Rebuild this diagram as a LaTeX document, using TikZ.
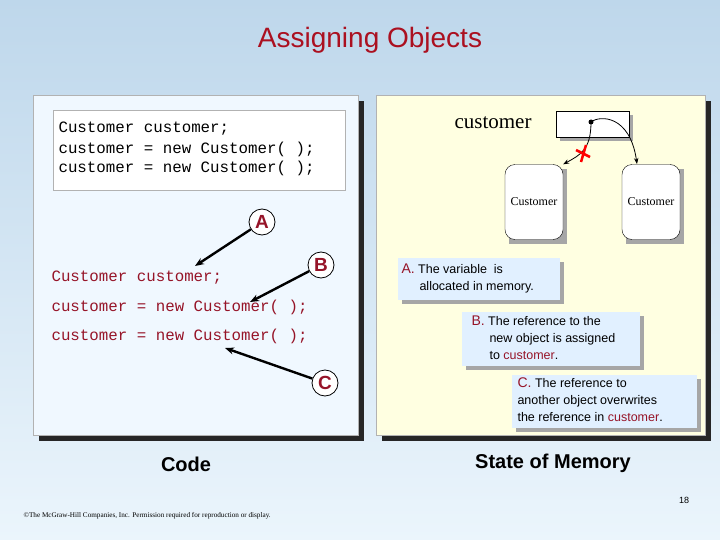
\documentclass[tikz,border=0pt]{standalone}
\usepackage{fontspec}
\setmainfont{Liberation Sans}
\newfontfamily\mono{Liberation Mono}
\newfontfamily\serif{Liberation Serif}
\usetikzlibrary{arrows.meta}
\definecolor{codered}{RGB}{150,20,40}
\definecolor{pale}{RGB}{240,248,255}
\definecolor{cream}{RGB}{255,255,225}
\definecolor{callout}{RGB}{225,240,255}
\definecolor{bgtop}{RGB}{190,215,235}
\definecolor{bgbot}{RGB}{235,245,252}
\tikzset{
 letter/.style={circle,draw,thick,fill=white,inner sep=1pt,minimum size=26pt,font=\bfseries\fontsize{19}{19}\selectfont,text=codered},
 ptr/.style={-{Stealth[length=9pt,width=7pt]},line width=2.4pt},
 obj/.style={draw,rounded corners=10pt,fill=white,minimum width=58pt,minimum height=75pt,font=\serif\fontsize{12}{12}\selectfont},
 note/.style={fill=callout,align=left,inner sep=4pt,font=\fontsize{12.5}{15}\selectfont},
 code/.style={anchor=west,font=\mono\fontsize{15.8}{16}\selectfont}
}
\begin{document}
\begin{tikzpicture}[x=1pt,y=-1pt]
\shade[top color=bgtop,bottom color=bgbot] (0,0) rectangle (720,540);
\useasboundingbox (0,0) rectangle (720,540);
\node[font=\fontsize{28}{28}\selectfont,text=codered!80!red] (title) at (370,40) {Assigning Objects};
% panels
\fill[black!85] (39,101) rectangle (364,441);
\fill[pale,draw=gray!60] (33,95) rectangle (358,435);
\fill[black!85] (382,101) rectangle (711,441);
\fill[cream,draw=gray!60] (376,95) rectangle (705,435);
% code box
\draw[fill=white,draw=gray!60] (53,110) rectangle (345,190);
\node[code] (c1) at (55,129) {Customer customer;};
\node[code] (c2) at (55,149) {customer = new Customer( );};
\node[code] (c3) at (55,168) {customer = new Customer( );};
\node[code,text=codered] (d1) at (48,278) {Customer customer;};
\node[code,text=codered] (d2) at (48,307) {customer = new Customer( );};
\node[code,text=codered] (d3) at (48,336) {customer = new Customer( );};
\node[letter] (A) at (262,222) {A};
\node[letter] (B) at (321,265) {B};
\node[letter] (C) at (325,383) {C};
\coordinate (ta) at (195,266);
\coordinate (tb) at (250,302);
\coordinate (tc) at (225,348);
\draw[ptr] (A) -- (ta);
\draw[ptr] (B) -- (tb);
\draw[ptr] (C) -- (tc);
% memory
\node[font=\serif\fontsize{21}{21}\selectfont] (lab) at (493,123) {customer};
\fill[gray!70] (560,115) rectangle (633,141);
\draw[fill=white] (556,111) rectangle (629,137);
\fill[gray!70] (509,169) rectangle (567,244);
\fill[gray!70] (626,169) rectangle (684,244);
\node[obj] (o1) at (534,202) {Customer};
\node[obj] (o2) at (651,202) {Customer};
\fill (591,122) circle (2.5);
\coordinate (dot) at (591,122);
\draw[-{Stealth[length=6pt]},thick] (dot) .. controls (591,150) and (580,155) .. (o1.north east);
\draw[-{Stealth[length=6pt]},thick] (dot) .. controls (600,115) and (630,115) .. (637,164);
\draw[red,line width=2.5pt] (576,150) -- (590,157) (586,145) -- (581,162);
% notes
\fill[gray!70] (402,262) rectangle (564,304);
\node[note,minimum width=162pt,minimum height=42pt,anchor=north west] (na) at (398,258) {};
\node[anchor=north west,align=left,font=\fontsize{12.5}{17}\selectfont] at (398,260) {\textcolor{codered}{\fontsize{14}{14}\selectfont A.} The variable\ \ is\\\hspace*{18pt}allocated in memory.};
\fill[gray!70] (466,316) rectangle (644,370);
\node[note,minimum width=178pt,minimum height=54pt,anchor=north west] (nb) at (462,312) {};
\node[anchor=north west,align=left,font=\fontsize{12.5}{17}\selectfont] at (468,312) {\textcolor{codered}{\fontsize{14}{14}\selectfont B.} The reference to the\\\hspace*{18pt}new object is assigned\\\hspace*{18pt}to \textcolor{codered}{customer}.};
\fill[gray!70] (516,379) rectangle (701,432);
\node[note,minimum width=185pt,minimum height=53pt,anchor=north west] (nc) at (512,375) {};
\node[anchor=north west,align=left,font=\fontsize{12.5}{17}\selectfont] at (514,374) {\textcolor{codered}{\fontsize{14}{14}\selectfont C.} The reference to\\another object overwrites\\the reference in \textcolor{codered}{customer}.};
\node[font=\bfseries\fontsize{20}{20}\selectfont] (code) at (186,464) {Code};
\node[font=\bfseries\fontsize{20}{20}\selectfont] (mem) at (553,463) {State of Memory};
\node[font=\fontsize{9}{9}\selectfont] (pg) at (684,500) {18};
\node[font=\serif\fontsize{7.2}{8}\selectfont,anchor=west] (cp) at (20,516) {©The McGraw-Hill Companies, Inc. Permission required for reproduction or display.};
\end{tikzpicture}
\end{document}
